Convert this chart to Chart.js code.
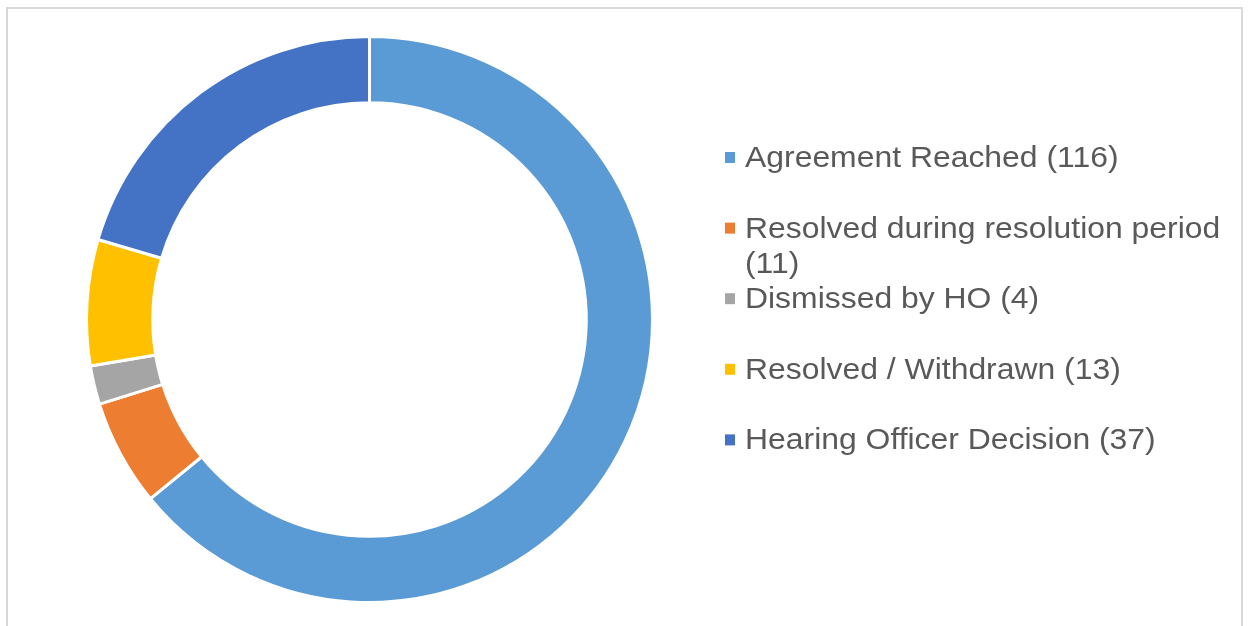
<!DOCTYPE html>
<html>
<head>
<meta charset="utf-8">
<script src="https://cdn.jsdelivr.net/npm/chart.js@4/dist/chart.umd.min.js"></script>
<style>
  html, body { margin: 0; padding: 0; background: #ffffff; overflow: hidden; }
  #wrap { position: relative; width: 1253px; height: 626px; }
  #frame { position: absolute; left: 6px; top: 7px; width: 1237px; height: 660px; border: 2px solid #d9d9d9; box-sizing: border-box; }
  canvas { position: absolute; left: 0; top: 0; }
</style>
</head>
<body>
<div id="wrap">
  <div id="frame"></div>
  <canvas id="c" width="1253" height="626"></canvas>
</div>
<script>
const categories = [
  "Agreement Reached",
  "Resolved during resolution period",
  "Dismissed by HO",
  "Resolved / Withdrawn",
  "Hearing Officer Decision"
];
const counts = [116, 11, 4, 13, 37];
const sliceColors = ["#5B9BD5", "#ED7D31", "#A5A5A5", "#FFC000", "#4472C4"];

const legendPlugin = {
  id: 'sideLegend',
  afterDraw(chart) {
    const ctx = chart.ctx;
    const fontPx = 29;
    const stretch = 1.1;
    const markerX = 725, textX = 745, firstBaseline = 167, step = 70.6, lineH = 35, maxW = 495;
    ctx.save();
    ctx.font = fontPx + 'px "Liberation Sans", Arial, sans-serif';
    ctx.textBaseline = 'alphabetic';
    categories.forEach((cat, i) => {
      const text = cat + ' (' + counts[i] + ')';
      const base = firstBaseline + i * step;
      ctx.fillStyle = sliceColors[i];
      ctx.fillRect(markerX, base - 15, 10, 11);
      const words = text.split(' ');
      const lines = [];
      let cur = '';
      words.forEach(w => {
        const t = cur ? cur + ' ' + w : w;
        if (ctx.measureText(t).width * stretch > maxW && cur) { lines.push(cur); cur = w; }
        else cur = t;
      });
      if (cur) lines.push(cur);
      ctx.fillStyle = '#595959';
      lines.forEach((ln, j) => {
        ctx.save();
        ctx.translate(textX, base + j * lineH);
        ctx.scale(stretch, 1);
        ctx.fillText(ln, 0, 0);
        ctx.restore();
      });
    });
    ctx.restore();
  }
};

new Chart(document.getElementById('c'), {
  type: 'doughnut',
  data: {
    labels: categories,
    datasets: [{
      data: counts,
      backgroundColor: sliceColors,
      borderColor: '#ffffff',
      borderWidth: 3,
      hoverOffset: 0
    }]
  },
  options: {
    responsive: false,
    animation: false,
    cutout: '76.6%',
    layout: { padding: { left: 85, top: 35, right: 599, bottom: 22 } },
    plugins: { legend: { display: false }, tooltip: { enabled: false } }
  },
  plugins: [legendPlugin]
});
</script>
</body>
</html>
